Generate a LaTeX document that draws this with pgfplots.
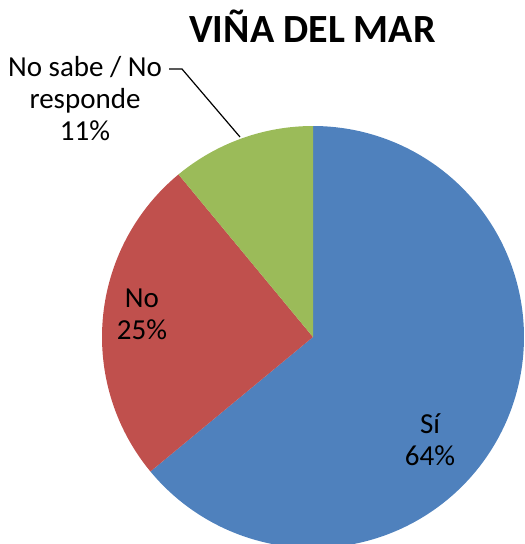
\documentclass[border=0pt]{standalone}
\usepackage{pgfplots}
\pgfplotsset{compat=1.18}
\usepackage{pgfplotstable}
\usepackage{fontspec}
\setmainfont{Carlito}
\definecolor{cblue}{HTML}{4F81BD}
\definecolor{cred}{HTML}{C0504D}
\definecolor{cgreen}{HTML}{9BBB59}
\pgfplotstableread{
label value
Si 64
No 25
NSNR 11
}\piedata
\begin{document}
\begin{tikzpicture}
\pgfplotstablegetelem{0}{value}\of\piedata \let\va\pgfplotsretval
\pgfplotstablegetelem{1}{value}\of\piedata \let\vb\pgfplotsretval
\pgfplotstablegetelem{2}{value}\of\piedata \let\vc\pgfplotsretval
\pgfmathsetmacro\aA{90}
\pgfmathsetmacro\aB{90-3.6*\va}
\pgfmathsetmacro\aC{\aB-3.6*\vb}
\pgfmathsetmacro\aD{\aC-3.6*\vc}
\def\cx{313}\def\cy{207}\def\rr{211}
\begin{axis}[
  width=525pt, height=544pt, scale only axis,
  xmin=0, xmax=525, ymin=0, ymax=544,
  hide axis, clip=true,
]
\addplot[fill=cblue, draw=none, domain=\aB:\aA, samples=181] ({\cx+\rr*cos(x)},{\cy+\rr*sin(x)}) -- (axis cs:\cx,\cy) -- cycle;
\addplot[fill=cred, draw=none, domain=\aC:\aB, samples=91] ({\cx+\rr*cos(x)},{\cy+\rr*sin(x)}) -- (axis cs:\cx,\cy) -- cycle;
\addplot[fill=cgreen, draw=none, domain=\aD:\aC, samples=41] ({\cx+\rr*cos(x)},{\cy+\rr*sin(x)}) -- (axis cs:\cx,\cy) -- cycle;
\draw[black, line width=1.2pt] (axis cs:169,475) -- (axis cs:182,475) -- (axis cs:240,407);
\node[anchor=base, font=\fontsize{40}{44}\selectfont\bfseries] at (axis cs:312.5,501) {VIÑA DEL MAR};
\node[align=center, font=\fontsize{29}{32}\selectfont, inner sep=0pt] at (axis cs:430,104) {Sí\\64\%};
\node[align=center, font=\fontsize{29}{32}\selectfont, inner sep=0pt] at (axis cs:142,230) {No\\25\%};
\node[align=center, font=\fontsize{29}{32}\selectfont, inner sep=0pt] at (axis cs:85,445) {No sabe / No\\responde\\11\%};
\end{axis}
\pgfresetboundingbox
\path (current axis.south west) rectangle (current axis.north east);
\end{tikzpicture}
\end{document}
